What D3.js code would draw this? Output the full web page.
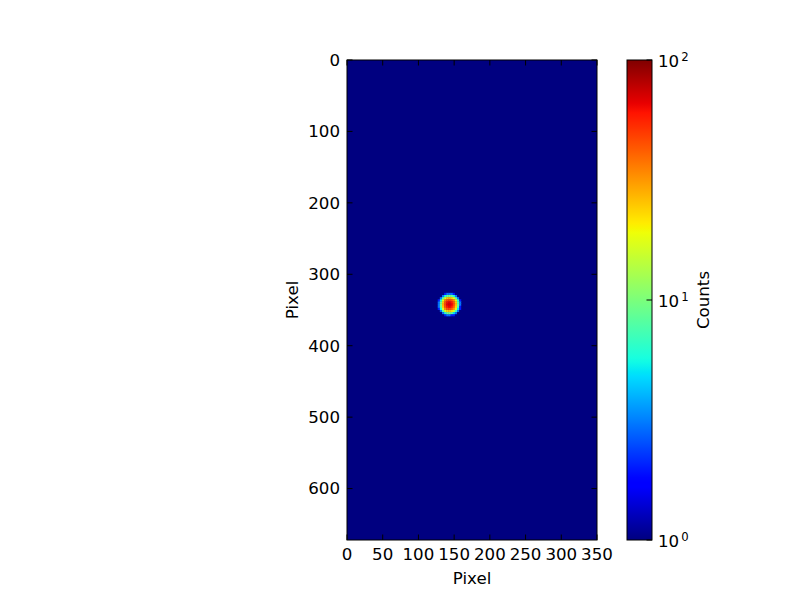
<!DOCTYPE html>
<html>
<head>
<meta charset="utf-8">
<script src="https://cdn.jsdelivr.net/npm/d3@7"></script>
<style>
  body { margin: 0; background: #fff; }
  text { font-family: "DejaVu Sans", sans-serif; fill: #000; }
</style>
</head>
<body>
<svg width="800" height="600"></svg>
<script>
const svg = d3.select('svg')

// image size in detector pixels
const imgWidth = 350
const imgHeight = 672
const background = 1

// counts around the spot, 3x3 pixel cells, patch top-left at (124, 323)
const spotOrigin = [124, 323]
const cellSize = 3
const spotCounts = [
	[1, 1, 1, 1, 1, 1, 1, 1, 1, 1, 1, 1, 1],
	[1, 1, 1, 1, 2, 3, 3, 3, 2, 1, 1, 1, 1],
	[1, 1, 1, 3, 6, 9, 10, 9, 6, 3, 1, 1, 1],
	[1, 1, 3, 8, 18, 25, 28, 25, 18, 8, 3, 1, 1],
	[1, 2, 6, 18, 35, 45, 48, 44, 34, 17, 6, 2, 1],
	[1, 3, 9, 25, 45, 62, 66, 60, 44, 24, 8, 3, 1],
	[1, 3, 10, 28, 48, 66, 72, 65, 47, 26, 9, 3, 1],
	[1, 3, 9, 25, 45, 60, 65, 58, 42, 23, 8, 2, 1],
	[1, 2, 6, 17, 33, 44, 46, 42, 32, 16, 5, 2, 1],
	[1, 1, 3, 8, 17, 24, 26, 23, 16, 7, 3, 1, 1],
	[1, 1, 1, 3, 6, 9, 10, 9, 5, 3, 1, 1, 1],
	[1, 1, 1, 1, 2, 3, 3, 2, 2, 1, 1, 1, 1],
	[1, 1, 1, 1, 1, 1, 1, 1, 1, 1, 1, 1, 1],
]

const xTicks = [0, 50, 100, 150, 200, 250, 300, 350]
const yTicks = [0, 100, 200, 300, 400, 500, 600]
const colorTicks = [1, 10, 100]
const colorTickExp = ['0', '1', '2']

// jet colormap segments (matplotlib)
const jetR = d3.scaleLinear().domain([0, 0.35, 0.66, 0.89, 1]).range([0, 0, 1, 1, 0.5]).clamp(true)
const jetG = d3.scaleLinear().domain([0, 0.125, 0.375, 0.64, 0.91, 1]).range([0, 0, 1, 1, 0, 0]).clamp(true)
const jetB = d3.scaleLinear().domain([0, 0.11, 0.34, 0.65, 1]).range([0.5, 1, 1, 0, 0]).clamp(true)
const jet = t => d3.rgb(jetR(t) * 255, jetG(t) * 255, jetB(t) * 255).formatHex()

const norm = d3.scaleLog().domain([1, 100]).range([0, 1]).clamp(true)
const color = v => jet(norm(v))

const plot = { left: 347, top: 60, width: 250, height: 480 }
const x = d3.scaleLinear().domain([0, imgWidth]).range([plot.left, plot.left + plot.width])
const y = d3.scaleLinear().domain([0, imgHeight]).range([plot.top, plot.top + plot.height])

const fontSize = 16.67
const tickLen = 5.5

// image
svg.append('rect')
	.attr('x', x(0)).attr('y', y(0))
	.attr('width', x(imgWidth) - x(0)).attr('height', y(imgHeight) - y(0))
	.attr('fill', color(background))

const cells = []
spotCounts.forEach((row, r) => row.forEach((v, c) => cells.push({ r, c, v })))

svg.append('g').selectAll('rect')
	.data(cells)
	.enter()
	.append('rect')
	.attr('x', d => x(spotOrigin[0] + d.c * cellSize))
	.attr('y', d => y(spotOrigin[1] + d.r * cellSize))
	.attr('width', x(cellSize) - x(0) + 0.3)
	.attr('height', y(cellSize) - y(0) + 0.3)
	.attr('fill', d => color(d.v))

// frame
svg.append('rect')
	.attr('x', plot.left).attr('y', plot.top)
	.attr('width', plot.width).attr('height', plot.height)
	.attr('fill', 'none').attr('stroke', '#000').attr('stroke-width', 1)

// x ticks, inward top and bottom
const gx = svg.append('g')
gx.selectAll('.tb').data(xTicks).enter().append('line')
	.attr('x1', d => x(d)).attr('x2', d => x(d))
	.attr('y1', y(imgHeight)).attr('y2', y(imgHeight) - tickLen)
	.attr('stroke', '#000')
gx.selectAll('.tt').data(xTicks).enter().append('line')
	.attr('x1', d => x(d)).attr('x2', d => x(d))
	.attr('y1', y(0)).attr('y2', y(0) + tickLen)
	.attr('stroke', '#000')
gx.selectAll('text').data(xTicks).enter().append('text')
	.attr('x', d => x(d)).attr('y', y(imgHeight) + 20)
	.attr('text-anchor', 'middle').style('font-size', fontSize + 'px')
	.text(d => d)

// y ticks, inward left and right
const gy = svg.append('g')
gy.selectAll('.tl').data(yTicks).enter().append('line')
	.attr('x1', x(0)).attr('x2', x(0) + tickLen)
	.attr('y1', d => y(d)).attr('y2', d => y(d))
	.attr('stroke', '#000')
gy.selectAll('.tr').data(yTicks).enter().append('line')
	.attr('x1', x(imgWidth)).attr('x2', x(imgWidth) - tickLen)
	.attr('y1', d => y(d)).attr('y2', d => y(d))
	.attr('stroke', '#000')
gy.selectAll('text').data(yTicks).enter().append('text')
	.attr('x', x(0) - 7).attr('y', d => y(d))
	.attr('dy', '0.35em')
	.attr('text-anchor', 'end').style('font-size', fontSize + 'px')
	.text(d => d)

svg.append('text')
	.attr('x', plot.left + plot.width / 2).attr('y', 584)
	.attr('text-anchor', 'middle').style('font-size', fontSize + 'px')
	.text('Pixel')

svg.append('text')
	.attr('transform', `translate(298,${plot.top + plot.height / 2}) rotate(-90)`)
	.attr('text-anchor', 'middle').style('font-size', fontSize + 'px')
	.text('Pixel')

// colorbar
const cb = { left: 627, top: 60, width: 25, height: 480 }
const cy = d3.scaleLog().domain([1, 100]).range([cb.top + cb.height, cb.top])

const grad = svg.append('defs').append('linearGradient')
	.attr('id', 'jet').attr('x1', 0).attr('x2', 0).attr('y1', 1).attr('y2', 0)
grad.selectAll('stop').data(d3.range(0, 1.0001, 0.01)).enter().append('stop')
	.attr('offset', d => d)
	.attr('stop-color', d => jet(d))

svg.append('rect')
	.attr('x', cb.left).attr('y', cb.top)
	.attr('width', cb.width).attr('height', cb.height)
	.attr('fill', 'url(#jet)')
	.attr('stroke', '#000').attr('stroke-width', 1)

svg.append('g').selectAll('line').data(colorTicks).enter().append('line')
	.attr('x1', cb.left + cb.width).attr('x2', cb.left + cb.width - tickLen)
	.attr('y1', d => cy(d)).attr('y2', d => cy(d))
	.attr('stroke', '#000')

const cl = svg.append('g').selectAll('text').data(colorTicks).enter().append('text')
	.attr('x', cb.left + cb.width + 6).attr('y', d => cy(d))
	.attr('dy', '0.4em')
	.style('font-size', fontSize + 'px')
cl.append('tspan').text('10')
cl.append('tspan')
	.attr('dy', '-0.5em').attr('dx', '2')
	.style('font-size', '11.7px')
	.text((d, i) => colorTickExp[i])

svg.append('text')
	.attr('transform', `translate(709,${cb.top + cb.height / 2}) rotate(-90)`)
	.attr('text-anchor', 'middle').style('font-size', fontSize + 'px')
	.text('Counts')
</script>
</body>
</html>
